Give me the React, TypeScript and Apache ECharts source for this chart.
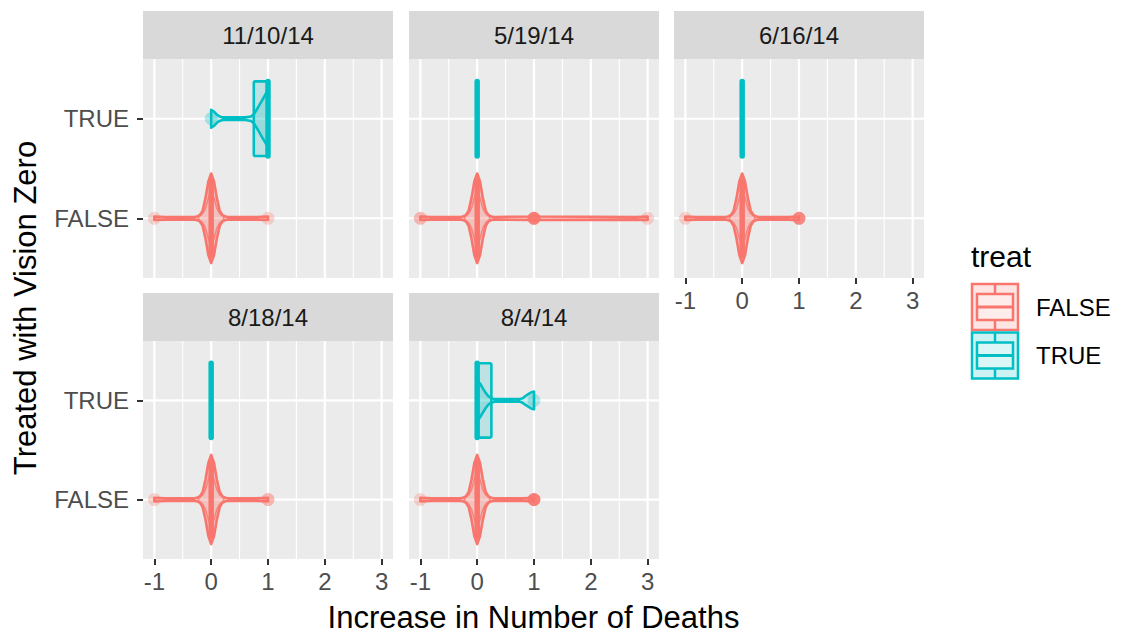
import React, { useEffect, useRef } from 'react';
import * as echarts from 'echarts';

// Facet titles (survey dates) and the two treatment groups
const panels = ['11/10/14', '5/19/14', '6/16/14', '8/18/14', '8/4/14'];
const groups = ['FALSE', 'TRUE'];
const xTicks = [-1, 0, 1, 2, 3];
const xMinor = [-0.5, 0.5, 1.5, 2.5];

// Violin outlines per facet: [increase in deaths, relative density (1 = widest)]
const violinFalse: number[][][] = [
  [[-1, 0.04], [-0.8, 0.03], [-0.3, 0.03], [-0.25, 0.04], [-0.2, 0.07], [-0.15, 0.17], [-0.1, 0.45], [-0.05, 0.82], [0, 1], [0.05, 0.82], [0.1, 0.45], [0.15, 0.17], [0.2, 0.07], [0.25, 0.04], [0.3, 0.03], [0.8, 0.03], [1, 0.04]],
  [[-1, 0.04], [-0.8, 0.03], [-0.3, 0.03], [-0.25, 0.04], [-0.2, 0.07], [-0.15, 0.17], [-0.1, 0.45], [-0.05, 0.82], [0, 1], [0.05, 0.82], [0.1, 0.45], [0.15, 0.17], [0.2, 0.07], [0.25, 0.04], [0.3, 0.03], [0.9, 0.04], [1, 0.05], [1.1, 0.04], [2.8, 0.03], [3, 0.04]],
  [[-1, 0.04], [-0.8, 0.03], [-0.3, 0.03], [-0.25, 0.04], [-0.2, 0.07], [-0.15, 0.17], [-0.1, 0.45], [-0.05, 0.82], [0, 1], [0.05, 0.82], [0.1, 0.45], [0.15, 0.17], [0.2, 0.07], [0.25, 0.04], [0.3, 0.03], [0.8, 0.03], [1, 0.04]],
  [[-1, 0.04], [-0.8, 0.03], [-0.3, 0.03], [-0.25, 0.04], [-0.2, 0.07], [-0.15, 0.17], [-0.1, 0.45], [-0.05, 0.82], [0, 1], [0.05, 0.82], [0.1, 0.45], [0.15, 0.17], [0.2, 0.07], [0.25, 0.04], [0.3, 0.03], [0.8, 0.03], [1, 0.04]],
  [[-1, 0.04], [-0.8, 0.03], [-0.3, 0.03], [-0.25, 0.04], [-0.2, 0.07], [-0.15, 0.17], [-0.1, 0.45], [-0.05, 0.82], [0, 1], [0.05, 0.82], [0.1, 0.45], [0.15, 0.17], [0.2, 0.07], [0.25, 0.04], [0.3, 0.03], [0.8, 0.03], [1, 0.04]],
];
// Narrower second density layer drawn inside each FALSE violin
const innerFalse: number[][] = [[-0.22, 0.03], [-0.15, 0.1], [-0.1, 0.22], [-0.05, 0.45], [0, 0.62], [0.05, 0.45], [0.1, 0.22], [0.15, 0.1], [0.22, 0.03]];
const violinTrue: number[][][] = [
  [[0, 0.2], [0.05, 0.16], [0.1, 0.09], [0.15, 0.05], [0.2, 0.03], [0.6, 0.03], [0.7, 0.05], [0.75, 0.1], [0.8, 0.2], [0.85, 0.31], [0.9, 0.42], [0.95, 0.53], [1, 0.64]],
  [],
  [],
  [],
  [[0, 0.45], [0.05, 0.38], [0.1, 0.27], [0.15, 0.17], [0.2, 0.09], [0.25, 0.05], [0.3, 0.03], [0.75, 0.03], [0.8, 0.05], [0.85, 0.1], [0.9, 0.14], [0.95, 0.18], [1, 0.2]],
];

// Box statistics per facet: [lower whisker, Q1, median, Q3, upper whisker]
const boxFalse = [[0, 0, 0, 0, 0], [0, 0, 0, 0, 0], [0, 0, 0, 0, 0], [0, 0, 0, 0, 0], [0, 0, 0, 0, 0]];
const boxTrue = [[0.75, 0.75, 1, 1, 1], [0, 0, 0, 0, 0], [0, 0, 0, 0, 0], [0, 0, 0, 0, 0], [0, 0, 0, 0.25, 0.25]];

// Outlying observations per facet: [value, number of observations]
const outFalse = [
  [[-1, 1], [1, 1]],
  [[-1, 2], [1, 8], [3, 1]],
  [[-1, 1], [1, 6]],
  [[-1, 1], [1, 2]],
  [[-1, 1], [1, 8]],
];
const outTrue = [[[0, 1]], [], [], [], [[1, 1]]];

const COLORS = ['#F8766D', '#00BFC4'];
const FILLS = ['rgba(248,118,109,0.35)', 'rgba(0,191,196,0.2)'];
const KEY_FILLS = ['rgba(248,118,109,0.2)', 'rgba(0,191,196,0.2)'];
const FONT = '"Liberation Sans", Arial, Helvetica, sans-serif';

const gridBoxes = [
  { left: 143, top: 59, width: 250, height: 219 },
  { left: 409, top: 59, width: 250, height: 219 },
  { left: 674, top: 59, width: 250, height: 219 },
  { left: 143, top: 341, width: 250, height: 218 },
  { left: 409, top: 341, width: 250, height: 218 },
];
const STRIP_H = 48;
const showXLabels = [false, false, true, true, true];
const showYLabels = [true, false, false, true, false];

function gridLineSeries(i: number) {
  const items: number[][] = [];
  xTicks.forEach((v) => items.push([0, v]));
  xMinor.forEach((v) => items.push([1, v]));
  [1, 2].forEach((v) => items.push([2, v]));
  return {
    type: 'custom',
    xAxisIndex: i,
    yAxisIndex: i,
    z: 1,
    silent: true,
    data: items,
    renderItem: (params: any, api: any) => {
      const kind = api.value(0);
      const v = api.value(1);
      let a: number[], b: number[];
      if (kind === 2) {
        a = api.coord([-1.2, v]);
        b = api.coord([3.2, v]);
      } else {
        a = api.coord([v, 0.4]);
        b = api.coord([v, 2.6]);
      }
      return {
        type: 'line',
        shape: { x1: a[0], y1: a[1], x2: b[0], y2: b[1] },
        style: { stroke: '#FFFFFF', lineWidth: kind === 1 ? 1.1 : 2.2 },
      };
    },
  };
}

function outline(api: any, prof: number[][], yc: number) {
  const upper = prof.map(([v, w]) => api.coord([v, yc + 0.45 * w]));
  const lower = prof.slice().reverse().map(([v, w]) => api.coord([v, yc - 0.45 * w]));
  return upper.concat(lower);
}

function violinSeries(i: number, g: number) {
  const prof = g === 0 ? violinFalse[i] : violinTrue[i];
  const box = g === 0 ? boxFalse[i] : boxTrue[i];
  const outs = g === 0 ? outFalse[i] : outTrue[i];
  const color = COLORS[g];
  const yc = g + 1;
  return {
    type: 'custom',
    xAxisIndex: i,
    yAxisIndex: i,
    z: 3,
    silent: true,
    data: [[box[2], yc]],
    renderItem: (params: any, api: any) => {
      const children: any[] = [];
      if (prof.length) {
        children.push({
          type: 'polygon',
          shape: { points: outline(api, prof, yc) },
          style: { fill: FILLS[g], stroke: color, lineWidth: 2.6, lineJoin: 'round' },
        });
        if (g === 0) {
          children.push({
            type: 'polygon',
            shape: { points: outline(api, innerFalse, yc) },
            style: { fill: 'none', stroke: color, lineWidth: 1.6, opacity: 0.8 },
          });
        }
      }
      // whiskers
      const wl0 = api.coord([box[0], yc]);
      const wl1 = api.coord([box[1], yc]);
      const wu0 = api.coord([box[3], yc]);
      const wu1 = api.coord([box[4], yc]);
      children.push({ type: 'line', shape: { x1: wl0[0], y1: wl0[1], x2: wl1[0], y2: wl1[1] }, style: { stroke: color, lineWidth: 2.5 } });
      children.push({ type: 'line', shape: { x1: wu0[0], y1: wu0[1], x2: wu1[0], y2: wu1[1] }, style: { stroke: color, lineWidth: 2.5 } });
      // box (collapsed boxes are shown by the median bar alone)
      const b0 = api.coord([box[1], yc + 0.375]);
      const b1 = api.coord([box[3], yc - 0.375]);
      if (b1[0] - b0[0] > 0.5) {
        children.push({
          type: 'rect',
          shape: { x: b0[0], y: b0[1], width: b1[0] - b0[0], height: b1[1] - b0[1], r: 1.5 },
          style: { fill: FILLS[g], stroke: color, lineWidth: 2.6 },
        });
      }
      // median
      const m0 = api.coord([box[2], yc + 0.375]);
      const m1 = api.coord([box[2], yc - 0.375]);
      children.push({
        type: 'line',
        shape: { x1: m0[0], y1: m0[1], x2: m1[0], y2: m1[1] },
        style: { stroke: color, lineWidth: 5.5, lineCap: 'round' },
      });
      // outliers
      outs.forEach(([v, n]) => {
        const p = api.coord([v, yc]);
        children.push({
          type: 'circle',
          shape: { cx: p[0], cy: p[1], r: 6.5 },
          style: { fill: color, opacity: 1 - Math.pow(0.72, n) },
        });
      });
      return { type: 'group', children };
    },
  };
}

function buildOption() {
  const graphics: any[] = [];
  gridBoxes.forEach((b, i) => {
    graphics.push({
      type: 'rect',
      shape: { x: b.left, y: b.top - STRIP_H, width: b.width, height: STRIP_H },
      style: { fill: '#D9D9D9' },
      silent: true,
    });
    graphics.push({
      type: 'text',
      x: b.left + b.width / 2,
      y: b.top - STRIP_H / 2,
      style: { text: panels[i], fill: '#1A1A1A', font: `24px ${FONT}`, align: 'center', verticalAlign: 'middle' },
      silent: true,
    });
  });

  // axis titles
  graphics.push({
    type: 'text',
    x: 533.5,
    y: 617,
    style: { text: 'Increase in Number of Deaths', fill: '#000000', font: `31px ${FONT}`, align: 'center', verticalAlign: 'middle' },
  });
  graphics.push({
    type: 'text',
    x: 25,
    y: 308,
    rotation: Math.PI / 2,
    style: { text: 'Treated with Vision Zero', fill: '#000000', font: `31px ${FONT}`, align: 'center', verticalAlign: 'middle' },
  });

  // legend
  graphics.push({
    type: 'text',
    x: 971,
    y: 256,
    style: { text: 'treat', fill: '#000000', font: `30px ${FONT}`, align: 'left', verticalAlign: 'middle' },
  });
  groups.forEach((name, g) => {
    const kx = 971;
    const ky = 283 + g * 48.5;
    const s = 48;
    const c = COLORS[g];
    graphics.push({ type: 'rect', shape: { x: kx, y: ky, width: s, height: s }, style: { fill: '#FFFFFF', stroke: 'none' } });
    graphics.push({ type: 'rect', shape: { x: kx + 1, y: ky + 1, width: s - 2, height: s - 2 }, style: { fill: KEY_FILLS[g], stroke: c, lineWidth: 2.5 } });
    graphics.push({ type: 'rect', shape: { x: kx + 6, y: ky + 11, width: s - 12, height: s - 22 }, style: { fill: 'rgba(255,255,255,0.3)', stroke: c, lineWidth: 2.5 } });
    graphics.push({ type: 'line', shape: { x1: kx + s / 2, y1: ky + 1, x2: kx + s / 2, y2: ky + 11 }, style: { stroke: c, lineWidth: 2.5 } });
    graphics.push({ type: 'line', shape: { x1: kx + s / 2, y1: ky + s - 11, x2: kx + s / 2, y2: ky + s - 1 }, style: { stroke: c, lineWidth: 2.5 } });
    graphics.push({ type: 'line', shape: { x1: kx + 6, y1: ky + s / 2, x2: kx + s - 6, y2: ky + s / 2 }, style: { stroke: c, lineWidth: 3 } });
    graphics.push({
      type: 'text',
      x: 1036,
      y: ky + s / 2,
      style: { text: name, fill: '#000000', font: `24px ${FONT}`, align: 'left', verticalAlign: 'middle' },
    });
  });

  const series: any[] = [];
  gridBoxes.forEach((_, i) => {
    series.push(gridLineSeries(i));
    series.push(violinSeries(i, 0));
    series.push(violinSeries(i, 1));
  });

  return {
    animation: false,
    textStyle: { fontFamily: FONT },
    grid: gridBoxes.map((b) => ({
      left: b.left,
      top: b.top,
      width: b.width,
      height: b.height,
      show: true,
      backgroundColor: '#EBEBEB',
      borderWidth: 0,
      containLabel: false,
    })),
    xAxis: gridBoxes.map((_, i) => ({
      type: 'value',
      gridIndex: i,
      position: 'bottom',
      min: -1.2,
      max: 3.2,
      splitLine: { show: false },
      axisLine: { show: false, onZero: false },
      axisTick: {
        show: showXLabels[i],
        customValues: xTicks,
        length: 6,
        lineStyle: { color: '#333333', width: 2 },
      },
      axisLabel: {
        show: showXLabels[i],
        customValues: xTicks,
        color: '#4D4D4D',
        fontSize: 24,
        margin: 10,
        fontFamily: FONT,
        formatter: (v: number) => String(v),
      },
    })),
    yAxis: gridBoxes.map((_, i) => ({
      type: 'value',
      gridIndex: i,
      position: 'left',
      min: 0.4,
      max: 2.6,
      splitLine: { show: false },
      axisLine: { show: false, onZero: false },
      axisTick: {
        show: showYLabels[i],
        customValues: [1, 2],
        length: 6,
        lineStyle: { color: '#333333', width: 2 },
      },
      axisLabel: {
        show: showYLabels[i],
        customValues: [1, 2],
        color: '#4D4D4D',
        fontSize: 24,
        margin: 14,
        fontFamily: FONT,
        formatter: (v: number) => groups[Math.round(v) - 1] ?? '',
      },
    })),
    graphic: graphics,
    series,
  };
}

export default function App() {
  const ref = useRef<HTMLDivElement>(null);
  useEffect(() => {
    if (!ref.current) return;
    const chart = echarts.init(ref.current, undefined, { renderer: 'svg' });
    chart.setOption(buildOption() as any);
    return () => chart.dispose();
  }, []);
  return (
    <div
      ref={ref}
      style={{ position: 'absolute', left: 0, top: 0, width: 1122, height: 639, background: '#FFFFFF' }}
    />
  );
}
